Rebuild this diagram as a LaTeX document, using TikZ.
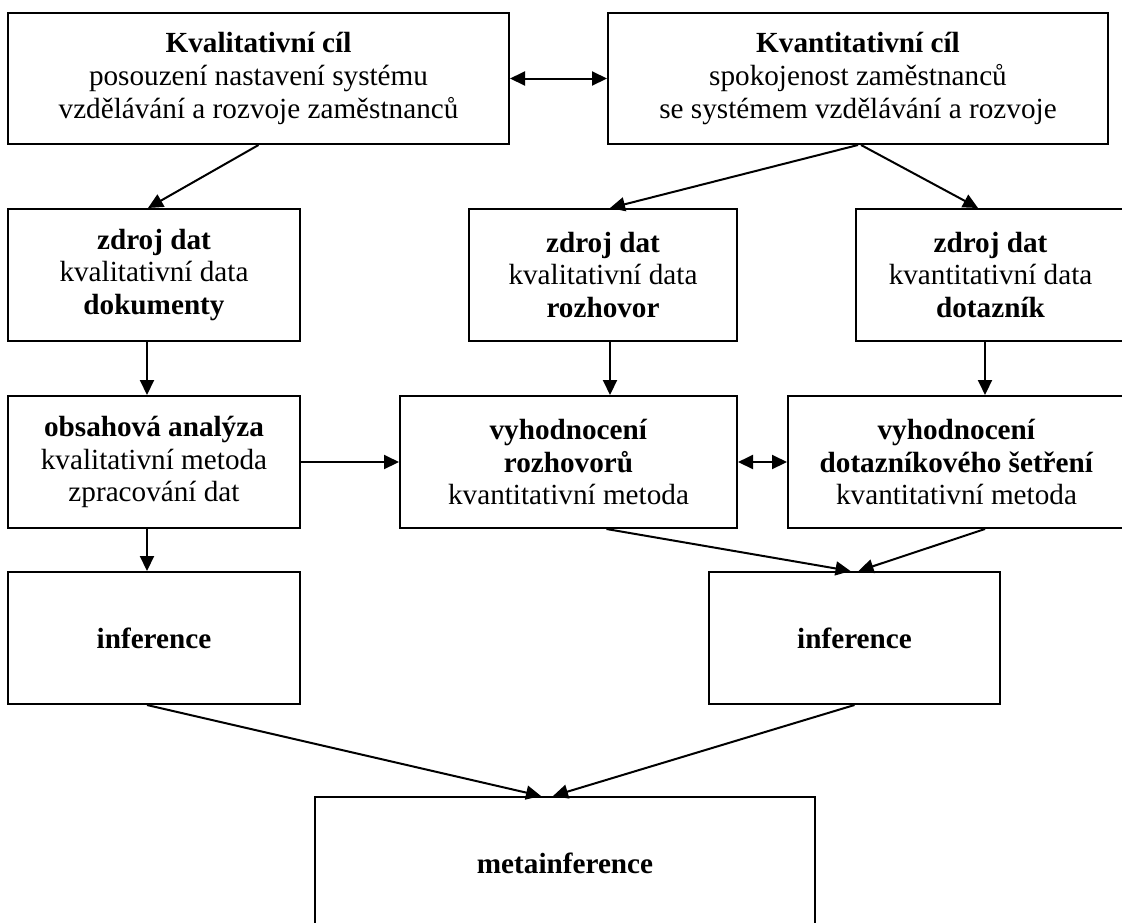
\documentclass[tikz,border=0pt]{standalone}
\usepackage{fontspec}
\setmainfont{Liberation Serif}
\usetikzlibrary{arrows.meta,calc}
\begin{document}
\begin{tikzpicture}[x=0.5pt,y=-0.5pt,
  box/.style={draw,line width=1pt,rectangle,inner sep=0pt,align=center,
    font=\fontsize{14.6pt}{16.3pt}\selectfont},
  arr/.style={line width=1pt,-{Triangle[length=7.5pt,width=7pt]}},
  darr/.style={line width=1pt,{Triangle[length=7.5pt,width=7pt]}-{Triangle[length=7.5pt,width=7pt]}}]
\useasboundingbox (0,0) rectangle (1122,922);
\clip (0,0) rectangle (1122,922);
\node[box,minimum width=250.5pt,minimum height=65.5pt] (b1) at (258.5,78.5)
  {\textbf{Kvalitativní cíl}\\posouzení nastavení systému\\vzdělávání a rozvoje zaměstnanců};
\node[box,minimum width=250pt,minimum height=65.5pt] (b2) at (858,78.5)
  {\textbf{Kvantitativní cíl}\\spokojenost zaměstnanců\\se systémem vzdělávání a rozvoje};
\node[box,minimum width=146pt,minimum height=66pt] (b3) at (154,275)
  {\textbf{zdroj dat}\\kvalitativní data\\\textbf{dokumenty}};
\node[box,minimum width=134pt,minimum height=66pt] (b4) at (603,275)
  {\textbf{zdroj dat}\\kvalitativní data\\\textbf{rozhovor}};
\node[box,minimum width=134.5pt,minimum height=66pt] (b5) at (990.5,275)
  {\textbf{zdroj dat}\\kvantitativní data\\\textbf{dotazník}};
\node[box,minimum width=146pt,minimum height=66pt] (b6) at (154,462)
  {\textbf{obsahová analýza}\\kvalitativní metoda\\zpracování dat};
\node[box,minimum width=168.5pt,minimum height=66pt] (b7) at (568.5,462)
  {\textbf{vyhodnocení}\\\textbf{rozhovorů}\\kvantitativní metoda};
\node[box,minimum width=168.5pt,minimum height=66pt] (b8) at (956.5,462)
  {\textbf{vyhodnocení}\\\textbf{dotazníkového šetření}\\kvantitativní metoda};
\node[box,minimum width=146pt,minimum height=66pt] (b9) at (154,638)
  {\textbf{inference}};
\node[box,minimum width=145.5pt,minimum height=66pt] (b10) at (854.5,638)
  {\textbf{inference}};
\node[box,minimum width=250pt,minimum height=66pt] (b11) at (565,863)
  {\textbf{metainference}};

\draw[darr] (b1.east) -- (b2.west);
\draw[arr] (b1.south) -- ([xshift=-3pt]b3.north);
\draw[arr] (b2.south) -- ([xshift=3.5pt]b4.north);
\draw[arr] ([xshift=1.5pt]b2.south) -- ([xshift=-6.25pt]b5.north);
\draw[arr] ([xshift=-3.5pt]b3.south) -- ([xshift=-3.5pt]b6.north);
\draw[arr] ([xshift=3.5pt]b4.south) -- ([xshift=3.5pt]b4.south |- b7.north);
\draw[arr] ([xshift=-2.75pt]b5.south) -- ([xshift=-2.75pt]b5.south |- b8.north);
\draw[arr] (b6.east) -- (b7.west);
\draw[darr] (b7.east) -- (b8.west);
\draw[arr] ([xshift=-3.5pt]b6.south) -- ([xshift=-3.5pt]b9.north);
\draw[arr] ([xshift=19pt]b7.south) -- ([xshift=-2pt]b10.north);
\draw[arr] ([xshift=14.25pt]b8.south) -- ([xshift=2pt]b10.north);
\draw[arr] ([xshift=-3.5pt]b9.south) -- ([xshift=-12pt]b11.north);
\draw[arr] (b10.south) -- ([xshift=-6pt]b11.north);
\end{tikzpicture}
\end{document}
